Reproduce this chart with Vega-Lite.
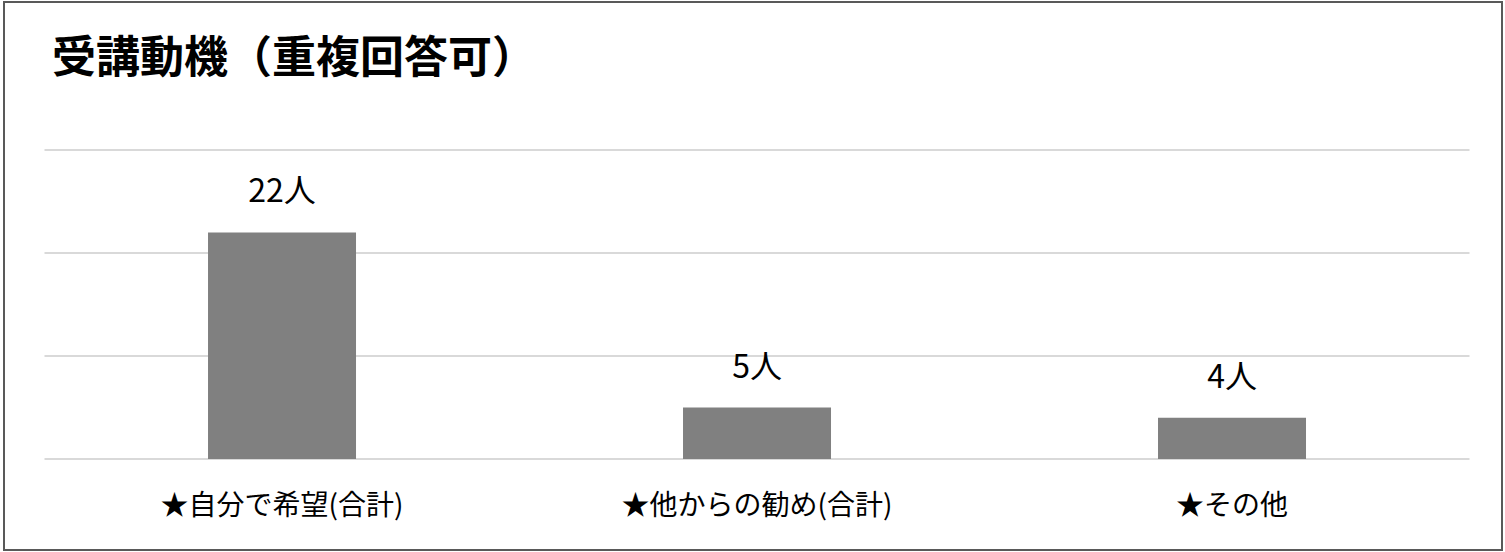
{
  "$schema": "https://vega.github.io/schema/vega-lite/v6.json",
  "width": 1498,
  "height": 548,
  "padding": {"left": 4, "top": 2, "right": 3, "bottom": 2},
  "autosize": {"type": "none"},
  "background": "white",
  "config": {
    "view": {"stroke": "#595959", "strokeWidth": 2},
    "font": "Noto Sans CJK JP"
  },
  "title": {
    "text": "受講動機（重複回答可）",
    "anchor": "start",
    "orient": "top",
    "offset": -102,
    "baseline": "middle",
    "dx": 48,
    "fontSize": 44,
    "fontWeight": "bold",
    "color": "#000000",
    "font": "Noto Sans CJK JP"
  },
  "datasets": {
    "bars": [
      {"idx": 0, "category": "★自分で希望(合計)", "count": 22, "label": "22人"},
      {"idx": 1, "category": "★他からの勧め(合計)", "count": 5, "label": "5人"},
      {"idx": 2, "category": "★その他", "count": 4, "label": "4人"}
    ],
    "grid": [
      {"level": 0, "from": -0.5, "to": 2.5},
      {"level": 10, "from": -0.5, "to": 2.5},
      {"level": 20, "from": -0.5, "to": 2.5},
      {"level": 30, "from": -0.5, "to": 2.5}
    ]
  },
  "layer": [
    {
      "data": {"name": "grid"},
      "mark": {"type": "rule", "color": "#d9d9d9", "strokeWidth": 2},
      "encoding": {
        "x": {"field": "from", "type": "quantitative", "scale": {"domain": [-0.5853, 2.5684], "nice": false, "zero": false, "padding": 0}, "axis": null},
        "x2": {"field": "to"},
        "y": {"field": "level", "type": "quantitative", "scale": {"domain": [-8.835, 44.37], "nice": false, "zero": false, "padding": 0}, "axis": null}
      }
    },
    {
      "data": {"name": "bars"},
      "mark": {"type": "bar", "color": "#808080", "size": 148},
      "encoding": {
        "x": {"field": "idx", "type": "quantitative"},
        "y": {"field": "count", "type": "quantitative"},
        "y2": {"datum": 0}
      }
    },
    {
      "data": {"name": "bars"},
      "mark": {"type": "text", "fontSize": 32, "baseline": "middle", "dy": -40, "color": "#000000"},
      "encoding": {
        "x": {"field": "idx", "type": "quantitative"},
        "y": {"field": "count", "type": "quantitative"},
        "text": {"field": "label"}
      }
    },
    {
      "data": {"name": "bars"},
      "mark": {"type": "text", "fontSize": 28, "baseline": "middle", "color": "#000000"},
      "encoding": {
        "x": {"field": "idx", "type": "quantitative"},
        "y": {"datum": -4.7},
        "text": {"field": "category"}
      }
    }
  ]
}
